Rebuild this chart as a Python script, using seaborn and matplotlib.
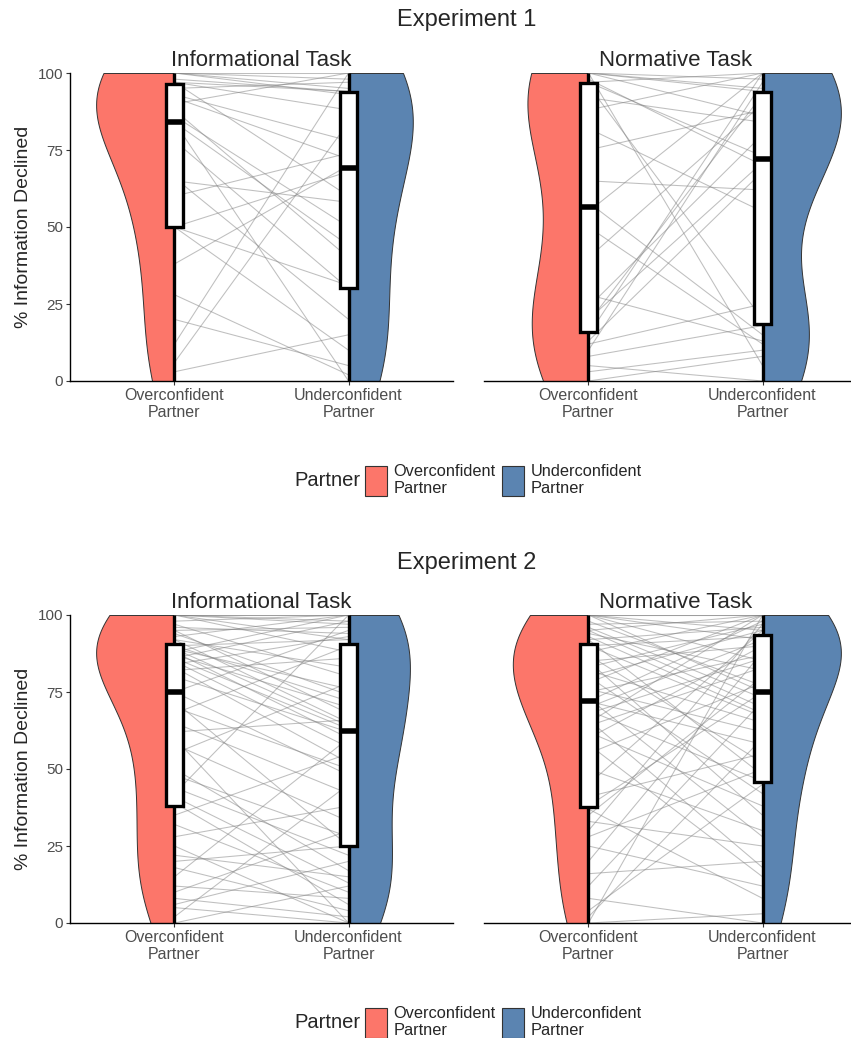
import seaborn as sns
import matplotlib.pyplot as plt
import pandas as pd
from matplotlib.patches import Patch, Rectangle

sns.set_style("ticks")
plt.rcParams['font.family'] = ['Liberation Sans', 'DejaVu Sans']

# ---------------- data ----------------
partners = ["Overconfident\nPartner", "Underconfident\nPartner"]
colors = ["#FC766A", "#5B84B1"]
experiments = ["Experiment 1", "Experiment 2"]
tasks = ["Informational Task", "Normative Task"]
y_ticks = [0, 25, 50, 75, 100]

# Experiment 1, informational task (one value per participant)
exp1_info_over = [100, 98, 97, 95, 84, 86, 66, 65, 50, 38, 0, 3, 100, 92, 88,
                  60, 78, 50, 50, 28, 20, 12, 6, 100, 97, 93, 90, 84, 97, 100]
exp1_info_under = [100, 94, 60, 97, 44, 50, 20, 58, 68, 70, 0, 15, 93, 72, 40,
                   74, 30, 10, 31, 2, 5, 100, 84, 95, 88, 78, 100, 0, 94, 98]

# Experiment 1, normative task
exp1_norm_over = [100, 100, 97, 98, 96, 92, 88, 82, 75, 65, 58, 55, 50, 40, 28,
                  24, 20, 19, 15, 13, 12, 10, 8, 5, 3, 0, 100, 100, 97, 100]
exp1_norm_under = [95, 86, 73, 70, 20, 84, 100, 55, 88, 62, 15, 100, 12, 90, 13,
                   80, 71, 93, 100, 68, 25, 97, 18, 0, 10, 8, 98, 94, 100, 5]

# Experiment 2, informational task
exp2_info_over = [0, 2, 5, 6, 8, 10, 12, 15, 18, 20, 22, 25, 28, 32, 35,
                  39, 41, 42, 44, 48, 50, 55, 58, 60, 62, 65, 68, 70, 72, 75,
                  75, 80, 82, 83, 84, 85, 86, 86, 87, 88, 88, 89, 89, 90, 90,
                  92, 92, 93, 94, 95, 95, 96, 97, 98, 100, 100, 100, 100, 100, 100]
exp2_info_under = [12, 45, 0, 20, 2, 30, 8, 60, 4, 25, 15, 0, 38, 10, 55,
                   6, 13, 100, 22, 28, 17, 78, 33, 0, 66, 42, 90, 50, 25, 95,
                   48, 62, 86, 52, 93, 57, 98, 63, 70, 100, 60, 76, 64, 92, 72,
                   83, 65, 100, 74, 96, 68, 94, 80, 100, 88, 98, 97, 92, 100, 100]

# Experiment 2, normative task
exp2_norm_over = [0, 0, 0, 2, 4, 8, 12, 16, 20, 25, 28, 30, 33, 35, 37,
                  38, 41, 45, 50, 55, 58, 60, 62, 64, 65, 66, 68, 69, 70, 72,
                  72, 73, 75, 76, 78, 80, 80, 82, 83, 85, 85, 87, 88, 90, 90,
                  92, 92, 93, 94, 95, 95, 96, 97, 98, 100, 100, 100, 100, 100, 100]
exp2_norm_under = [3, 100, 0, 60, 45, 0, 72, 20, 88, 12, 50, 97, 25, 80, 8,
                   75, 55, 95, 30, 78, 15, 90, 38, 83, 100, 18, 86, 46, 92, 58,
                   98, 28, 87, 62, 100, 42, 95, 65, 97, 35, 90, 52, 100, 67, 93,
                   48, 96, 68, 82, 70, 100, 73, 98, 77, 85, 92, 95, 100, 100, 75]

panels = [
    (0, 0, exp1_info_over, exp1_info_under),
    (0, 1, exp1_norm_over, exp1_norm_under),
    (1, 0, exp2_info_over, exp2_info_under),
    (1, 1, exp2_norm_over, exp2_norm_under),
]


def make_df(over, under):
    rows = []
    for pid, (a, b) in enumerate(zip(over, under)):
        rows.append((pid, partners[0], 0, a))
        rows.append((pid, partners[1], 1, b))
    return pd.DataFrame(rows, columns=["pid", "partner", "pos", "value"])


fig = plt.figure(figsize=(8.51, 10.38), dpi=100)
W, H = 851, 1038
ax_w = 383 / W
ax_h = 308 / H
lefts = [70 / W, 484 / W]
bottoms = [1 - 381 / H, 1 - 923 / H]

for row, col, over, under in panels:
    df = make_df(over, under)
    ax = fig.add_axes([lefts[col], bottoms[row], ax_w, ax_h])

    # full violins (equal area within a panel), then keep only the outer half
    n0 = len(ax.collections)
    sns.violinplot(data=df, x="pos", y="value", hue="partner", hue_order=partners,
                   inner=None, cut=0, density_norm="area", common_norm=True,
                   bw_adjust=1.15, palette=colors, saturation=1, width=0.9,
                   linewidth=0.7, linecolor="#333333", legend=False, ax=ax)
    for coll in ax.collections[n0:]:
        xs = coll.get_paths()[0].vertices[:, 0]
        pos = round((xs.min() + xs.max()) / 2)
        x_start = pos - 1 if pos == 0 else pos
        coll.set_clip_path(Rectangle((x_start, -10), 1, 120,
                                     transform=ax.transData))

    # paired lines for each participant
    sns.lineplot(data=df, x="pos", y="value", units="pid", estimator=None,
                 color="#7f7f7f", alpha=0.5, linewidth=0.75, legend=False, ax=ax)

    # narrow boxplots on top
    sns.boxplot(data=df, x="pos", y="value", width=0.1, color="white",
                saturation=1, linecolor="black", linewidth=2.4,
                showfliers=False, showcaps=False,
                medianprops=dict(linewidth=4), ax=ax)

    ax.set_xlim(-0.6, 1.6)
    ax.set_ylim(0, 100)
    ax.set_xticks([0, 1])
    ax.set_xticklabels(partners)
    ax.set_xlabel("")
    ax.set_title(tasks[col], fontsize=16, pad=5)
    ax.tick_params(length=3, width=0.8, color="#333333", pad=2,
                   labelcolor="#4D4D4D", labelsize=11.5)
    for s in ["top", "right"]:
        ax.spines[s].set_visible(False)
    ax.spines["bottom"].set_linewidth(1)
    ax.spines["bottom"].set_color("black")
    if col == 0:
        ax.set_yticks(y_ticks)
        ax.tick_params(axis="y", labelsize=11)
        ax.set_ylabel("% Information Declined", fontsize=14)
        ax.yaxis.set_label_coords(-0.1, 0.5)
        ax.spines["left"].set_linewidth(1)
        ax.spines["left"].set_color("black")
    else:
        ax.set_yticks([])
        ax.set_ylabel("")
        ax.spines["left"].set_visible(False)

# experiment titles and legends
exp_title_y = [20, 563]
legend_y = [480, 1022]
handles = [Patch(facecolor=c, edgecolor="#333333", linewidth=0.8) for c in colors]
for i, name in enumerate(experiments):
    fig.text(467 / W, 1 - exp_title_y[i] / H, name, ha="center", va="center",
             fontsize=17)
    fig.text(327 / W, 1 - legend_y[i] / H, "Partner", ha="center", va="center",
             fontsize=14.5)
    fig.legend(handles, partners, loc="center left",
               bbox_to_anchor=(365 / W, 1 - legend_y[i] / H), ncol=2,
               frameon=False, fontsize=11.8, handlelength=1.35, handleheight=2.5,
               handletextpad=0.4, columnspacing=0.4, borderpad=0,
               borderaxespad=0)

fig.savefig("out.png", dpi=100)
